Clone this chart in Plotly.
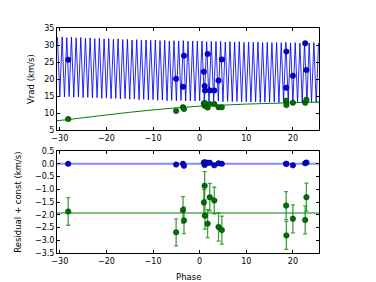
import plotly.graph_objects as go

# ---- data ----
epoch_phase = [-28.2, -5.05, -3.57, -3.36, 0.9, 1.07, 1.14, 1.71, 2.17, 3.14,
               4.05, 4.75, 18.55, 18.6, 20.0, 22.64, 22.9]
primary_vrad = [25.7, 20.1, 17.8, 26.9, 22.2, 18.0, 16.7, 27.4, 16.7, 16.7,
                19.6, 25.8, 17.5, 28.1, 21.0, 30.5, 22.7]
secondary_vrad = [8.3, 10.7, 11.8, 11.3, 12.9, 12.2, 13.0, 11.7, 12.7, 12.7,
                  11.8, 11.8, 13.7, 12.4, 13.1, 13.1, 14.0]
primary_resid = [0.0, -0.03, 0.0, -0.08, 0.05, -0.05, 0.06, 0.04, 0.04, -0.06,
                 0.02, 0.0, 0.0, 0.0, -0.06, 0.02, 0.05]
secondary_resid = [-1.87, -2.69, -1.81, -2.22, -1.52, -0.86, -2.04, -2.35, -1.31, -1.44,
                   -2.48, -2.60, -1.64, -2.81, -2.16, -2.20, -1.31]
secondary_err = [0.54, 0.53, 0.52, 0.52, 0.52, 0.55, 0.52, 0.55, 0.54, 0.52,
                 0.55, 0.55, 0.55, 0.55, 0.55, 0.55, 0.55]
secondary_const = -1.93

# primary model curve extrema (peaks and troughs)
peak_phase = [-30.5, -29.5, -28.5, -27.5, -26.5, -25.5, -24.5, -23.5, -22.5, -21.5,
              -20.5, -19.5, -18.5, -17.5, -16.5, -15.5, -14.5, -13.5, -12.5, -11.5,
              -10.5, -9.5, -8.5, -7.5, -6.5, -5.5, -4.5, -3.5, -2.5, -1.5,
              -0.5, 0.5, 1.5, 2.5, 3.5, 4.5, 5.5, 6.5, 7.5, 8.5,
              9.5, 10.5, 11.5, 12.5, 13.5, 14.5, 15.5, 16.5, 17.5, 18.5,
              19.5, 20.5, 21.5, 22.5, 23.5, 24.5, 25.5]
peak_vrad = [32.3, 32.4, 32.2, 32.3, 32.1, 32.2, 32.0, 32.1, 31.9, 32.0,
             31.8, 31.9, 31.7, 31.8, 31.6, 31.7, 31.5, 31.6, 31.4, 31.5,
             31.4, 31.5, 31.3, 31.4, 31.2, 31.3, 31.2, 31.3, 31.1, 31.2,
             31.1, 31.2, 31.0, 31.1, 31.0, 31.1, 30.9, 31.0, 30.9, 31.0,
             30.8, 30.9, 30.8, 30.9, 30.7, 30.8, 30.7, 30.8, 30.7, 30.8,
             30.6, 30.7, 30.6, 30.7, 30.6, 30.7, 30.6]
trough_phase = [-30, -29, -28, -27, -26, -25, -24, -23, -22, -21,
                -20, -19, -18, -17, -16, -15, -14, -13, -12, -11,
                -10, -9, -8, -7, -6, -5, -4, -3, -2, -1,
                0, 1, 2, 3, 4, 5, 6, 7, 8, 9,
                10, 11, 12, 13, 14, 15, 16, 17, 18, 19,
                20, 21, 22, 23, 24, 25]
trough_vrad = [14.9, 14.8, 14.9, 14.7, 14.8, 14.6, 14.7, 14.5, 14.6, 14.4,
               14.5, 14.3, 14.4, 14.2, 14.3, 14.1, 14.2, 14.0, 14.1, 13.9,
               14.0, 13.8, 13.9, 13.7, 13.8, 13.7, 13.8, 13.6, 13.7, 13.6,
               13.7, 13.5, 13.6, 13.5, 13.6, 13.4, 13.5, 13.4, 13.5, 13.3,
               13.4, 13.3, 13.4, 13.2, 13.3, 13.2, 13.3, 13.1, 13.2, 13.1,
               13.2, 13.1, 13.2, 13.1, 13.2, 13.1]

# secondary model curve
sec_model_phase = [-30.6, -25, -20, -15, -10, -5, 0, 5, 10, 15, 20, 25.6]
sec_model_vrad = [7.8, 8.7, 9.5, 10.3, 11.0, 11.6, 12.1, 12.4, 12.7, 12.9, 13.1, 13.3]

x_range = [-30.6, 25.6]
x_ticks = [-30, -20, -10, 0, 10, 20]
top_ticks = [5, 10, 15, 20, 25, 30, 35]
bot_ticks = [0.5, 0.0, -0.5, -1.0, -1.5, -2.0, -2.5, -3.0, -3.5]

# ---- figure ----
model = sorted(list(zip(peak_phase, peak_vrad)) + list(zip(trough_phase, trough_vrad)))
mx = [p[0] for p in model]
my = [p[1] for p in model]

fig = go.Figure()
fig.add_trace(go.Scatter(x=mx, y=my, mode="lines", line=dict(color="rgba(0,0,255,0.85)", width=1),
                         xaxis="x", yaxis="y", showlegend=False, hoverinfo="skip"))
fig.add_trace(go.Scatter(x=sec_model_phase, y=sec_model_vrad, mode="lines",
                         line=dict(color="#008000", width=1, shape="spline"),
                         xaxis="x", yaxis="y", showlegend=False))
fig.add_trace(go.Scatter(x=epoch_phase, y=primary_vrad, mode="markers",
                         marker=dict(color="#0000e0", size=5.5, line=dict(color="#000040", width=0.5)),
                         xaxis="x", yaxis="y", showlegend=False))
fig.add_trace(go.Scatter(x=epoch_phase, y=secondary_vrad, mode="markers",
                         marker=dict(color="#007000", size=5.5, line=dict(color="#003000", width=0.5)),
                         xaxis="x", yaxis="y", showlegend=False))

# bottom panel
fig.add_trace(go.Scatter(x=x_range, y=[0, 0], mode="lines", line=dict(color="rgba(60,60,255,0.6)", width=2),
                         xaxis="x2", yaxis="y2", showlegend=False))
fig.add_trace(go.Scatter(x=x_range, y=[secondary_const, secondary_const], mode="lines",
                         line=dict(color="#008000", width=1), xaxis="x2", yaxis="y2", showlegend=False))
fig.add_trace(go.Scatter(x=epoch_phase, y=primary_resid, mode="markers",
                         marker=dict(color="#0000e0", size=5.5, line=dict(color="#000040", width=0.5)),
                         xaxis="x2", yaxis="y2", showlegend=False))
fig.add_trace(go.Scatter(x=epoch_phase, y=secondary_resid, mode="markers",
                         marker=dict(color="#007000", size=5.5, line=dict(color="#003000", width=0.5)),
                         error_y=dict(type="data", array=secondary_err, color="rgba(0,128,0,0.75)",
                                      thickness=1.3, width=2),
                         xaxis="x2", yaxis="y2", showlegend=False))

font = dict(family="DejaVu Sans", size=8, color="#000000")
axis_common = dict(showline=True, linecolor="#000000", linewidth=1, mirror="ticks",
                   ticks="inside", ticklen=3, tickcolor="#000000", showgrid=False,
                   zeroline=False, tickfont=font)

fig.update_layout(
    width=376, height=282,
    margin=dict(l=57, r=57, t=28, b=29),
    paper_bgcolor="white", plot_bgcolor="white",
    font=font,
    xaxis=dict(domain=[0, 1], range=x_range, tickvals=x_ticks, anchor="y", **axis_common),
    yaxis=dict(domain=[0.545, 1], range=[5, 35], tickvals=top_ticks, anchor="x", **axis_common),
    xaxis2=dict(domain=[0, 1], range=x_range, tickvals=x_ticks, anchor="y2", **axis_common),
    yaxis2=dict(domain=[0, 0.453], range=[-3.5, 0.5], tickvals=bot_ticks, tickformat=".1f",
                anchor="x2", **axis_common),
    annotations=[
        dict(text="Vrad (km/s)", xref="paper", yref="paper", x=-0.075, y=0.775,
             xanchor="right", yanchor="middle", textangle=-90, showarrow=False,
             font=dict(family="DejaVu Sans", size=8.5, color="#000")),
        dict(text="Residual + const (km/s)", xref="paper", yref="paper", x=-0.12, y=0.226,
             xanchor="right", yanchor="middle", textangle=-90, showarrow=False,
             font=dict(family="DejaVu Sans", size=8.5, color="#000")),
        dict(text="Phase", xref="paper", yref="paper", x=0.5, y=-0.075,
             xanchor="center", yanchor="top", showarrow=False,
             font=dict(family="DejaVu Sans", size=8.5, color="#000")),
    ],
)

fig.write_html("out.html", config={"displayModeBar": False},
               post_script="document.body.style.margin='0';document.body.style.overflow='hidden';")
